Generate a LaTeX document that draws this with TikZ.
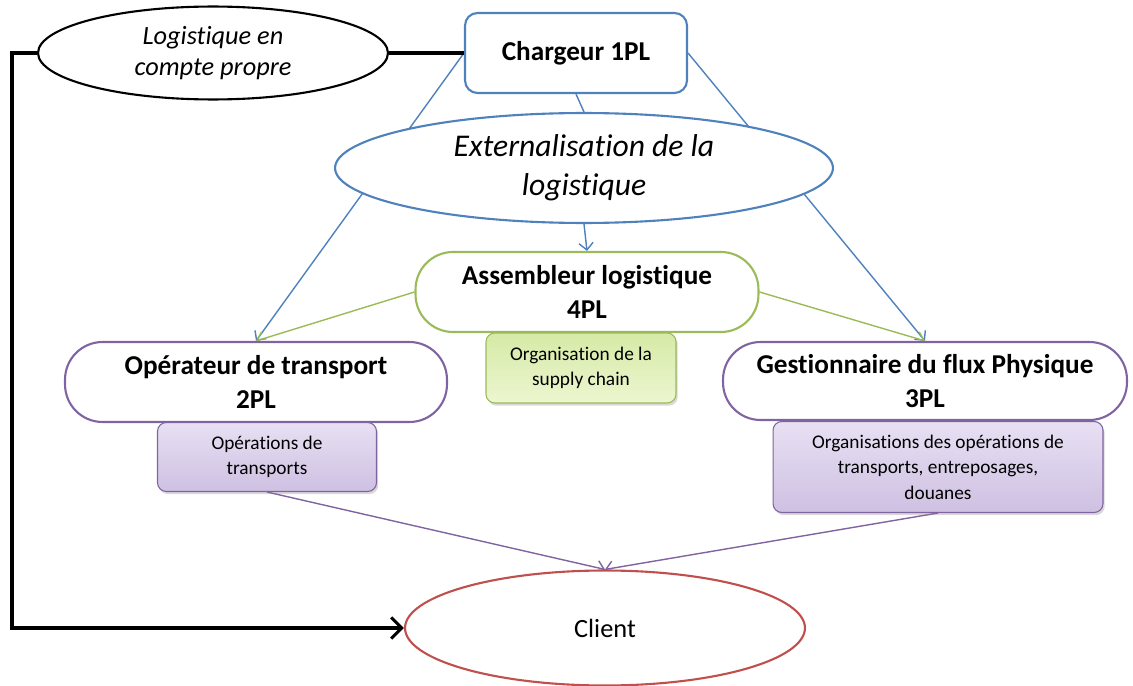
\documentclass[tikz,border=0pt]{standalone}
\usepackage{fontspec}
\setmainfont{Carlito}[Ligatures=NoCommon]
\usepackage{xcolor}
\usepackage{tikz}
\usetikzlibrary{shapes.geometric, arrows.meta, shadows, backgrounds}

\definecolor{offblue}{RGB}{79,129,189}
\definecolor{offgreen}{RGB}{155,187,89}
\definecolor{offpurple}{RGB}{128,100,162}
\definecolor{offred}{RGB}{192,80,77}
\definecolor{greentop}{RGB}{214,234,166}
\definecolor{greenbot}{RGB}{236,246,208}
\definecolor{purpletop}{RGB}{232,224,243}
\definecolor{purplebot}{RGB}{206,192,226}

\begin{document}
\begin{tikzpicture}[x=0.02cm, y=-0.02cm,
    % Styles
    actor/.style={
        rectangle,
        rounded corners=0.75cm,
        fill=white,
        line width=1.2pt,
        minimum height=1.6cm,
        align=center,
        font=\fontsize{15.5}{19}\selectfont\bfseries
    },
    task/.style={
        rectangle,
        rounded corners=5pt,
        line width=0.6pt,
        align=center,
        drop shadow={opacity=0.3, shadow xshift=1pt, shadow yshift=-1.5pt},
        font=\fontsize{11}{14.5}\selectfont
    },
    oval/.style={
        ellipse,
        fill=white,
        line width=1.2pt,
        align=center
    },
    link/.style={line width=0.8pt, -{Straight Barb[length=4pt, width=8pt]}},
    plain/.style={line width=0.8pt},
    owner/.style={line width=1.8pt}
]
\useasboundingbox (0,0) rectangle (1133,686);

% Shipper and own account
\node[actor, draw=offblue, rounded corners=0.25cm, minimum width=4.44cm] (charg) at (576, 53) {Chargeur 1PL};

\node[oval, draw=black, minimum width=7cm, minimum height=1.6cm,
      font=\fontsize{15}{18}\selectfont\itshape] (logi) at (213, 53) {
    \raisebox{-3pt}{Logistique en}\\
    \raisebox{-3pt}{compte propre}
};

% Outsourcing
\node[oval, draw=offblue, minimum width=9.96cm, minimum height=1.74cm,
      font=\fontsize{18}{22}\selectfont\itshape] (ext) at (584, 168) {
    Externalisation de la\\
    logistique
};

% 4PL
\node[actor, draw=offgreen, minimum width=6.86cm] (assem) at (587, 292) {
    Assembleur logistique\\
    4PL
};
\node[task, draw=offgreen, top color=greentop, bottom color=greenbot,
      minimum width=3.8cm, minimum height=1.4cm] (orgsc) at (581, 368) {
    Organisation de la\\
    supply chain
};

% 2PL
\node[actor, draw=offpurple, minimum width=7.64cm] (op2) at (256, 382) {
    Opérateur de transport\\
    2PL
};
\node[task, draw=offpurple, top color=purpletop, bottom color=purplebot,
      minimum width=4.38cm, minimum height=1.38cm] (ops2) at (267, 457) {
    Opérations de\\
    transports
};

% 3PL
\node[actor, draw=offpurple, minimum width=8.08cm, minimum height=1.56cm] (gest3) at (925, 381) {
    Gestionnaire du flux Physique\\
    3PL
};
\node[task, draw=offpurple, top color=purpletop, bottom color=purplebot,
      minimum width=6.6cm, minimum height=1.82cm] (orgs3) at (938, 467) {
    Organisations des opérations de\\
    transports, entreposages,\\
    douanes
};

% Client
\node[oval, draw=offred, minimum width=8cm, minimum height=2.3cm,
      font=\fontsize{15}{18}\selectfont] (client) at (605, 628) {Client};

% Connectors
\begin{scope}[on background layer]
    \draw[plain, offblue] (charg.south) -- (ext.north);
    \draw[link, offblue] (ext.south) -- (assem.north);
    \draw[link, offblue] (charg.west) -- (op2.north);
    \draw[link, offblue] (charg.east) -- (gest3.north);
    \draw[link, offgreen] (assem.west) -- (op2.north);
    \draw[link, offgreen] (assem.east) -- (gest3.north);
    \draw[link, offpurple] (ops2.south) -- (client.north);
    \draw[link, offpurple] (orgs3.south) -- (client.north);
\end{scope}
\draw[owner] (logi.east) -- (charg.west);
\draw[owner, -{Straight Barb[length=6pt, width=12pt]}] (logi.west) -- ++(-25, 0) |- (client.west);

\end{tikzpicture}
\end{document}
